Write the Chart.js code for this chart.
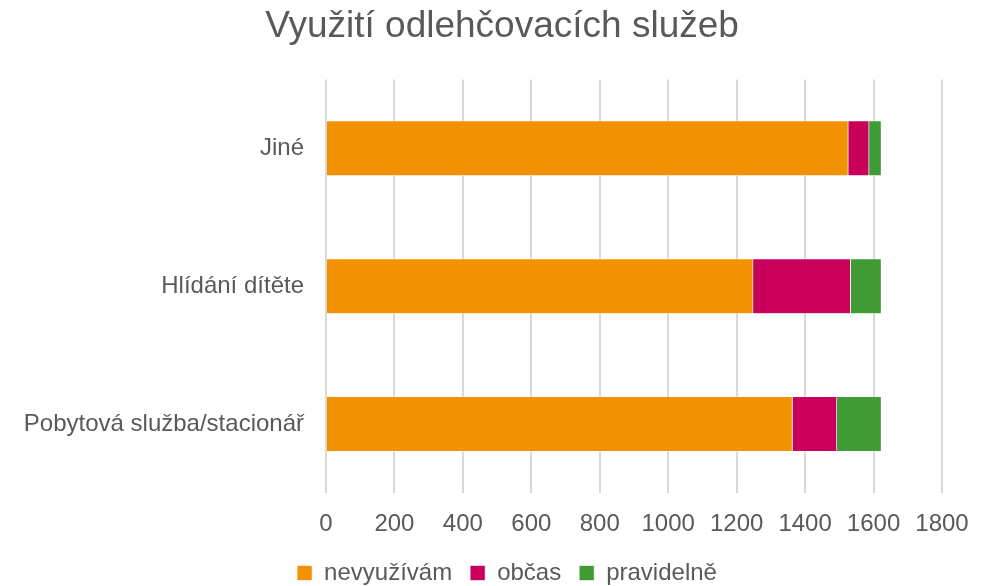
<!DOCTYPE html>
<html><head><meta charset="utf-8">
<script src="https://cdn.jsdelivr.net/npm/chart.js@4/dist/chart.umd.min.js"></script>
<style>html,body{margin:0;padding:0;background:#fff}#wrap{width:992px;height:586px}</style>
</head><body><div id="wrap"><canvas id="c" width="992" height="586"></canvas></div>
<script>
const categories = ['Jiné', 'Hlídání dítěte', 'Pobytová služba/stacionář'];
const seriesNames = ['nevyužívám', 'občas', 'pravidelně'];
const nevyuzivam = [1526, 1248, 1363];
const obcas = [61, 285, 130];
const pravidelne = [36, 90, 130];
const colors = ['#F39200', '#C8005B', '#3F9C35'];
const xTicks = [0, 200, 400, 600, 800, 1000, 1200, 1400, 1600, 1800];

const FONT = "'Liberation Sans', Arial, sans-serif";
const TXT = '#595959';
const values = [nevyuzivam, obcas, pravidelne];

const shiftBlocks = {
  id: 'shiftBlocks',
  afterLayout(chart) {
    if (chart.titleBlock) { chart.titleBlock.left = 62; }
    if (chart.legend) { chart.legend.left = 72; }
  }
};

new Chart(document.getElementById('c'), {
  type: 'bar',
  data: {
    labels: categories,
    datasets: seriesNames.map((n, i) => ({
      label: n, data: values[i], backgroundColor: colors[i],
      borderColor: '#ffffff', borderWidth: 0.6,
      barPercentage: 0.8, categoryPercentage: 0.5
    }))
  },
  plugins: [shiftBlocks],
  options: {
    indexAxis: 'y', responsive: false, animation: false,
    devicePixelRatio: 1,
    layout: { padding: { left: 0, right: 50, top: 0, bottom: -9 } },
    plugins: {
      title: { display: true, text: 'Využití odlehčovacích služeb', color: TXT,
        font: { family: FONT, size: 37, weight: 'normal' }, padding: { top: 5, bottom: 30 } },
      legend: { position: 'bottom',
        labels: { color: TXT, font: { family: FONT, size: 24 }, boxWidth: 15, boxHeight: 15, padding: 18 } },
      tooltip: { enabled: false }
    },
    scales: {
      x: { stacked: true, min: 0, max: 1800,
        afterBuildTicks: s => { s.ticks = xTicks.map(v => ({ value: v })); },
        afterFit: s => { s.height = 50; },
        ticks: { color: TXT, font: { family: FONT, size: 24 }, padding: 17,
          callback: v => String(v) },
        grid: { color: '#d9d9d9', lineWidth: 2, drawTicks: false },
        border: { display: false } },
      y: { stacked: true,
        afterFit: s => { s.width = 326; },
        ticks: { color: TXT, font: { family: FONT, size: 24 }, padding: 14 },
        grid: { display: false }, border: { display: false } }
    }
  }
});
</script></body></html>
